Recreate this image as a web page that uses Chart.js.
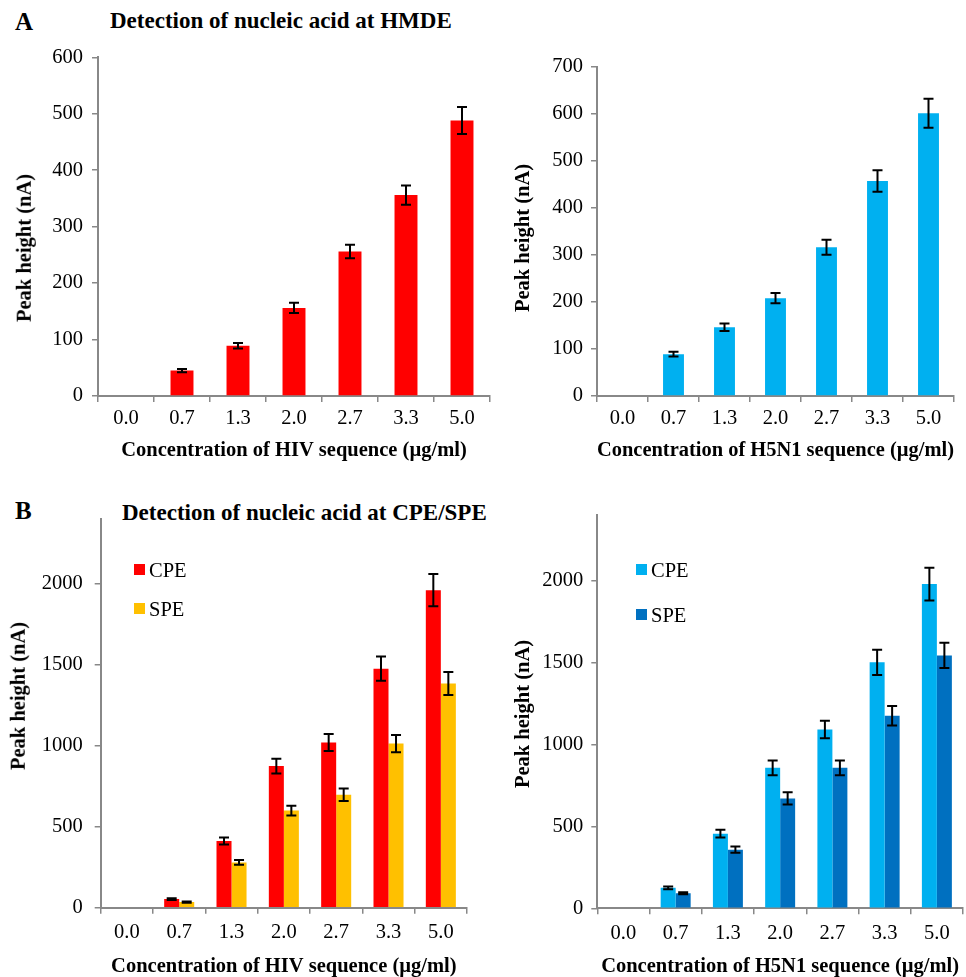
<!DOCTYPE html>
<html><head><meta charset="utf-8">
<script src="https://cdn.jsdelivr.net/npm/chart.js@4.4.1/dist/chart.umd.min.js"></script>
<style>
html,body{margin:0;padding:0;background:#fff;}
#wrap{position:relative;width:966px;height:977px;overflow:hidden;background:#fff;font-family:'Liberation Serif','Times New Roman',serif;color:#000;}
canvas{position:absolute;}
.t{position:absolute;white-space:nowrap;line-height:1;}
.b{font-weight:bold;}
.yt{position:absolute;white-space:nowrap;line-height:1;font-weight:bold;font-size:20.5px;transform:translate(-50%,-50%) rotate(-90deg);}
.sq{position:absolute;width:11px;height:11px;}
</style></head>
<body>
<div id="wrap">
  <div class="t b" style="left:15px;top:9px;font-size:25px">A</div>
  <div class="t b" style="left:110px;top:9px;font-size:23px">Detection of nucleic acid at HMDE</div>
  <div class="t b" style="left:15px;top:498px;font-size:25px">B</div>
  <div class="t b" style="left:122px;top:501px;font-size:23px">Detection of nucleic acid at CPE/SPE</div>
  <canvas id="c1" width="492" height="440" style="left:0;top:36px"></canvas>
  <canvas id="c2" width="474" height="430" style="left:492px;top:46px"></canvas>
  <canvas id="c3" width="470" height="490" style="left:0;top:495px"></canvas>
  <canvas id="c4" width="476" height="490" style="left:490px;top:495px"></canvas>
</div>
<script>
// ---- data ----
const categories = ['0.0', '0.7', '1.3', '2.0', '2.7', '3.3', '5.0'];

const hmdeHIV      = [0, 45, 89, 156, 256, 356, 488];
const hmdeHIVErr   = [0, 3, 5, 9, 12, 17, 24];
const hmdeH5N1     = [0, 89, 146, 208, 316, 457, 601];
const hmdeH5N1Err  = [0, 5, 8, 11, 16, 23, 31];

const cpeHIV       = [0, 53, 412, 875, 1021, 1477, 1962];
const cpeHIVErr    = [0, 5, 22, 45, 53, 75, 100];
const speHIV       = [0, 35, 280, 600, 698, 1014, 1386];
const speHIVErr    = [0, 4, 15, 30, 38, 53, 71];

const cpeH5N1      = [0, 125, 456, 858, 1092, 1502, 1980];
const cpeH5N1Err   = [0, 8, 23, 45, 54, 77, 100];
const speH5N1      = [0, 92, 358, 671, 858, 1176, 1544];
const speH5N1Err   = [0, 6, 19, 37, 45, 60, 77];

const yTicksA1 = [0, 100, 200, 300, 400, 500, 600];
const yTicksA2 = [0, 100, 200, 300, 400, 500, 600, 700];
const yTicksB  = [0, 500, 1000, 1500, 2000];

const seriesNames = ['CPE', 'SPE'];
const yTitle = 'Peak height (nA)';
const xTitleHIV = 'Concentration of HIV sequence (\u00b5g/ml)';
const xTitleH5N1 = 'Concentration of H5N1 sequence (\u00b5g/ml)';

// ---- plugin: error bars ----
const errorBars = {
  id: 'errorBars',
  afterDatasetsDraw(chart) {
    const ctx = chart.ctx, ys = chart.scales.y;
    ctx.save();
    ctx.strokeStyle = '#000';
    ctx.lineWidth = 2;
    chart.data.datasets.forEach((ds, di) => {
      const meta = chart.getDatasetMeta(di);
      meta.data.forEach((bar, i) => {
        const e = ds.errors[i], v = ds.data[i];
        if (!e) return;
        const x = bar.x;
        const t = ys.getPixelForValue(v + e), b = ys.getPixelForValue(v - e);
        const hw = 5;
        ctx.beginPath();
        ctx.moveTo(x, t); ctx.lineTo(x, b);
        ctx.moveTo(x - hw, t); ctx.lineTo(x + hw, t);
        ctx.moveTo(x - hw, b); ctx.lineTo(x + hw, b);
        ctx.stroke();
      });
    });
    ctx.restore();
  }
};

const FONT = "'Liberation Serif','Times New Roman',serif";
Chart.defaults.font.family = FONT;
const wrap = document.getElementById('wrap');

function makeChart(id, box, area, datasets, yMax, yTicks, catPct, barPct, xTitle, opt) {
  const [L, T, W, H] = box;
  const [x0, y0, x1, y1] = area;
  new Chart(document.getElementById(id), {
    type: 'bar',
    data: { labels: categories, datasets: datasets },
    options: {
      responsive: false,
      animation: false,
      devicePixelRatio: 1,
      layout: { padding: { left: 0, top: y0 - T, right: (L + W) - x1, bottom: 0 } },
      plugins: { legend: { display: false }, tooltip: { enabled: false } },
      datasets: { bar: { categoryPercentage: catPct, barPercentage: barPct } },
      scales: {
        x: {
          grid: { drawOnChartArea: false, drawTicks: true, tickLength: 6, color: '#888', lineWidth: 1.5, offset: true },
          border: { color: '#888', width: 2 },
          ticks: { color: '#000', font: { family: FONT, size: 20.5 }, padding: opt.xPad, autoSkip: false, maxRotation: 0 },
          title: { display: true, text: xTitle, color: '#000', font: { family: FONT, size: 20.5, weight: 'bold' }, padding: { top: 0, bottom: opt.xTitlePad } },
          afterFit: s => { s.height = (T + H) - y1; }
        },
        y: {
          min: 0, max: yMax,
          grid: { drawOnChartArea: false, drawTicks: true, tickLength: 6, color: '#888', lineWidth: 1.5 },
          border: { color: '#888', width: 2 },
          ticks: { color: '#000', font: { family: FONT, size: 20.5 }, padding: opt.yPad, callback: v => String(v) },
          afterBuildTicks: s => { s.ticks = yTicks.map(v => ({ value: v })); },
          title: { display: false },
          afterFit: s => { s.width = x0 - L; }
        }
      }
    },
    plugins: [errorBars]
  });
  // rotated y-axis title (HTML text)
  const yt = document.createElement('div');
  yt.className = 'yt';
  yt.style.left = opt.yTitleAt[0] + 'px';
  yt.style.top = opt.yTitleAt[1] + 'px';
  yt.textContent = yTitle;
  wrap.appendChild(yt);
}

makeChart('c1', [0, 36, 492, 440], [98, 54, 490, 396],
  [{ label: 'HMDE', data: hmdeHIV, errors: hmdeHIVErr, backgroundColor: '#FF0000' }],
  600, yTicksA1, 1.0, 0.41, xTitleHIV, { xPad: 4, xTitlePad: 13, yPad: 9, yTitleAt: [23.5, 247.5] });

makeChart('c2', [492, 46, 474, 430], [597, 66.7, 954, 396],
  [{ label: 'HMDE', data: hmdeH5N1, errors: hmdeH5N1Err, backgroundColor: '#00B0F0' }],
  700, yTicksA2, 1.0, 0.41, xTitleH5N1, { xPad: 4, xTitlePad: 13, yPad: 8, yTitleAt: [522, 237.5] });

makeChart('c3', [0, 495, 470, 490], [100.7, 513, 467, 907.7],
  [{ label: seriesNames[0], data: cpeHIV, errors: cpeHIVErr, backgroundColor: '#FF0000' },
   { label: seriesNames[1], data: speHIV, errors: speHIVErr, backgroundColor: '#FFC000' }],
  2400, yTicksB, 0.574, 1.0, xTitleHIV, { xPad: 7, xTitlePad: 6, yPad: 12, yTitleAt: [17.5, 696] });

makeChart('c4', [490, 495, 476, 490], [597.3, 510.7, 963, 908.3],
  [{ label: seriesNames[0], data: cpeH5N1, errors: cpeH5N1Err, backgroundColor: '#00B0F0' },
   { label: seriesNames[1], data: speH5N1, errors: speH5N1Err, backgroundColor: '#0070C0' }],
  2400, yTicksB, 0.574, 1.0, xTitleH5N1, { xPad: 7, xTitlePad: 6, yPad: 8, yTitleAt: [522, 714] });

// ---- legends (HTML text) ----
function legend(x, ys, colors) {
  seriesNames.forEach((n, i) => {
    const sq = document.createElement('div');
    sq.className = 'sq';
    sq.style.left = x + 'px'; sq.style.top = (ys[i] + 4) + 'px'; sq.style.background = colors[i];
    wrap.appendChild(sq);
    const t = document.createElement('div');
    t.className = 't';
    t.style.left = (x + 15) + 'px'; t.style.top = ys[i] + 'px'; t.style.fontSize = '20.5px';
    t.textContent = n;
    wrap.appendChild(t);
  });
}
legend(134, [560, 599], ['#FF0000', '#FFC000']);
legend(636, [560, 605], ['#00B0F0', '#0070C0']);
</script>
</body></html>
